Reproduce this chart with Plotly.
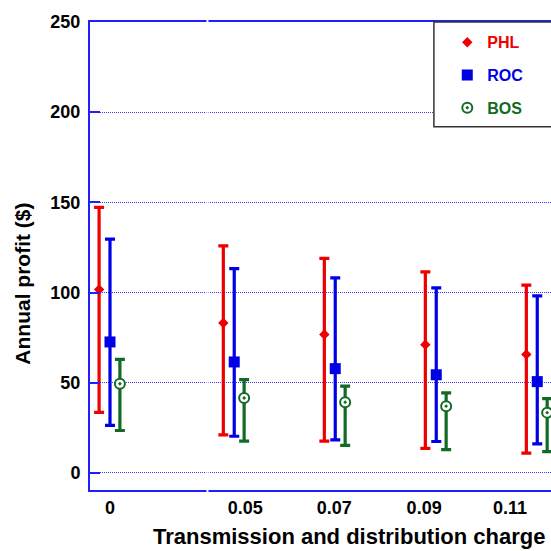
import plotly.graph_objects as go

# ---- data ----
categories = ["0", "0.05", "0.07", "0.09", "0.11"]
group_pos = [0.0, 1.23, 2.23, 3.23, 4.23]          # axis break between 0 and 0.05
tick_pos = [0.0, 1.34, 2.22, 3.11, 3.96]           # where the labels sit in the original

phl_mean = [101.7, 83.1, 76.7, 71.1, 65.7]
phl_hi = [147.2, 125.9, 118.9, 111.5, 104.1]
phl_lo = [33.5, 21.1, 17.6, 13.6, 10.9]

roc_mean = [72.6, 61.5, 57.8, 54.4, 50.6]
roc_hi = [129.6, 113.3, 108.1, 102.6, 98.1]
roc_lo = [26.3, 20.3, 18.3, 17.4, 16.1]

bos_mean = [49.4, 41.5, 39.2, 37.0, 33.4]
bos_hi = [62.9, 51.7, 48.1, 44.4, 41.2]
bos_lo = [23.5, 17.6, 15.2, 12.9, 11.8]

y_ticks = [0, 50, 100, 150, 200, 250]

RED = "#ee0000"
BLUE = "#0000e6"
GREEN = "#126b24"
AXIS_BLUE = "#1f1fff"
FONT = "Liberation Sans, Arial, sans-serif"

series = [
    ("PHL", phl_mean, phl_hi, phl_lo, RED, -0.108,
     dict(symbol="diamond", size=8, color=RED)),
    ("ROC", roc_mean, roc_hi, roc_lo, BLUE, 0.0,
     dict(symbol="square", size=11, color=BLUE)),
    ("BOS", bos_mean, bos_hi, bos_lo, GREEN, 0.098,
     dict(symbol="circle-dot", size=10, color="white",
          line=dict(color=GREEN, width=2))),
]

fig = go.Figure()
for name, mean, hi, lo, col, off, marker in series:
    fig.add_trace(go.Scatter(
        x=[p + off for p in group_pos],
        y=mean,
        mode="markers",
        name=f'<span style="color:{col}">{name}</span>',
        legendgroup=name,
        marker=marker,
        error_y=dict(
            type="data", symmetric=False,
            array=[h - m for h, m in zip(hi, mean)],
            arrayminus=[m - l for m, l in zip(mean, lo)],
            color=col, thickness=3.2, width=5,
        ),
        showlegend=True,
    ))

fig.update_xaxes(
    range=[-0.198, 4.366],
    tickmode="array", tickvals=tick_pos, ticktext=categories,
    ticks="", showgrid=False, zeroline=False,
    showline=True, linecolor=AXIS_BLUE, linewidth=2, mirror=True,
    tickfont=dict(family=FONT, size=18, color="black", weight="bold"),
)
fig.update_yaxes(
    range=[-9.5, 250],
    tickmode="array", tickvals=y_ticks,
    ticks="inside", ticklen=10, tickwidth=1.5, tickcolor=AXIS_BLUE,
    showgrid=True, gridcolor="#3a3aff", gridwidth=1, griddash="1px,1px",
    zeroline=False,
    showline=True, linecolor=AXIS_BLUE, linewidth=2, mirror=False,
    tickfont=dict(family=FONT, size=18, color="black", weight="bold"),
    ticklabelstandoff=4,
)

# axis-break gap between "0" and "0.05"
fig.add_shape(type="line", xref="x", yref="paper", x0=0.965, x1=0.965,
              y0=-0.01, y1=1.01, line=dict(color="white", width=2),
              layer="above")

# legend frame (extends beyond the right edge as in the reference)
fig.add_shape(type="rect", xref="paper", yref="paper",
              x0=0.746, x1=1.05, y0=0.776, y1=1.0,
              line=dict(color="#333333", width=1.5), fillcolor="white",
              layer="above")

fig.add_annotation(text="<b>Transmission and distribution charge</b>",
                   xref="paper", yref="paper", x=0.5618, y=-0.1004,
                   xanchor="center", yanchor="middle", showarrow=False,
                   font=dict(family=FONT, size=22, color="black"))
fig.add_annotation(text="<b>Annual profit ($)</b>", textangle=-90,
                   xref="paper", yref="paper", x=-0.1453, y=0.441,
                   xanchor="center", yanchor="middle", showarrow=False,
                   font=dict(family=FONT, size=21, color="black"))

fig.update_layout(
    width=551, height=551,
    margin=dict(l=90, r=0, t=22, b=61),
    paper_bgcolor="white", plot_bgcolor="white",
    legend=dict(
        x=0.775, y=0.993, xanchor="left", yanchor="top",
        bgcolor="rgba(0,0,0,0)", borderwidth=0,
        font=dict(family=FONT, size=16, weight="bold"),
        tracegroupgap=9,
    ),
    showlegend=True,
)

fig.write_html(
    "out.html",
    config={"displayModeBar": False},
    post_script="document.body.style.margin='0';document.body.style.overflow='hidden';",
)
